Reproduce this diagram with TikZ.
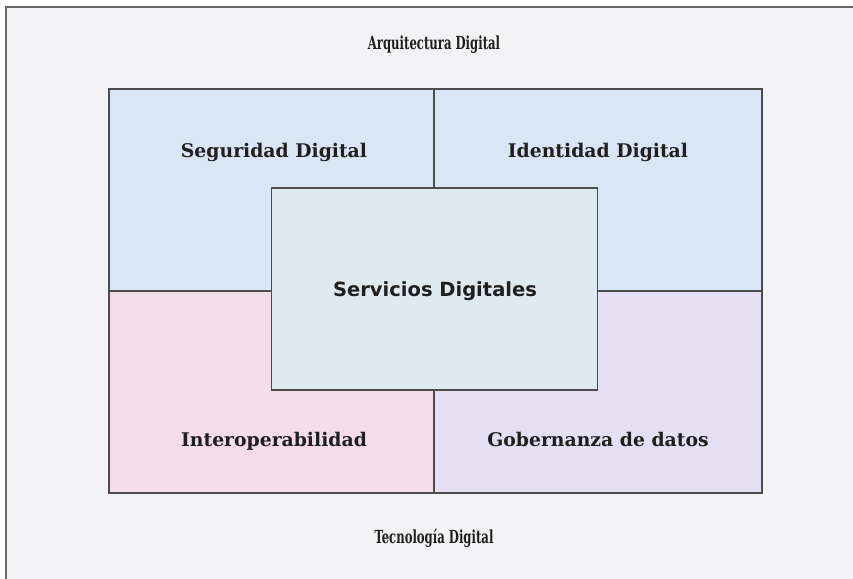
\documentclass[tikz,border=0pt]{standalone}
\usepackage{fontspec}
\usepackage{graphicx}
\setmainfont{DejaVu Serif}
\newfontfamily\condfont{DejaVu Serif Condensed}
\setsansfont{DejaVu Sans}
\newcommand{\narrowtxt}[1]{\scalebox{0.72}[1]{#1}}
\begin{document}
\begin{tikzpicture}[x=1pt,y=-1pt,
  lbl/.style={font=\bfseries\fontsize{18.8}{22}\selectfont, text=black!88, anchor=base},
  outer/.style={font=\condfont\bfseries\fontsize{18}{21}\selectfont, text=black!88, anchor=base},
  quad/.style={draw=black!70, line width=1.3pt},
  ]
\definecolor{bgc}{HTML}{F3F3F5}
\definecolor{bluec}{HTML}{DAE6F5}
\definecolor{centc}{HTML}{DFEAF0}
\definecolor{pinkc}{HTML}{F4DCE8}
\definecolor{lavc}{HTML}{E5DFF3}
\useasboundingbox (0,0) rectangle (853,578);
\begin{scope}
\clip (0,0) rectangle (853,578);
\fill[white] (0,0) rectangle (853,578);
\draw[fill=bgc, draw=black!60, line width=1.3pt] (6,7) rectangle (870,595);
\end{scope}
% quadrants
\draw[quad, fill=bluec] (109,89) rectangle (434,291);
\draw[quad, fill=bluec] (434,89) rectangle (762,291);
\draw[quad, fill=pinkc] (109,291) rectangle (434,493);
\draw[quad, fill=lavc] (434,291) rectangle (762,493);
\node[quad, fill=centc, minimum width=326pt, minimum height=202pt, inner sep=0pt] (serv) at (434.5,289) {};
\node[lbl, font=\sffamily\bfseries\fontsize{19.5}{22}\selectfont] (servl) at (435,296) {Servicios Digitales};
\node[outer] (arq) at (434,50) {\narrowtxt{Arquitectura Digital}};
\node[lbl] (seg) at (274,157) {Seguridad Digital};
\node[lbl] (ide) at (598,157) {Identidad Digital};
\node[lbl] (int) at (274,446) {Interoperabilidad};
\node[lbl] (gob) at (598,446) {Gobernanza de datos};
\node[outer] (tec) at (434,543) {\narrowtxt{Tecnología Digital}};
\end{tikzpicture}
\end{document}
